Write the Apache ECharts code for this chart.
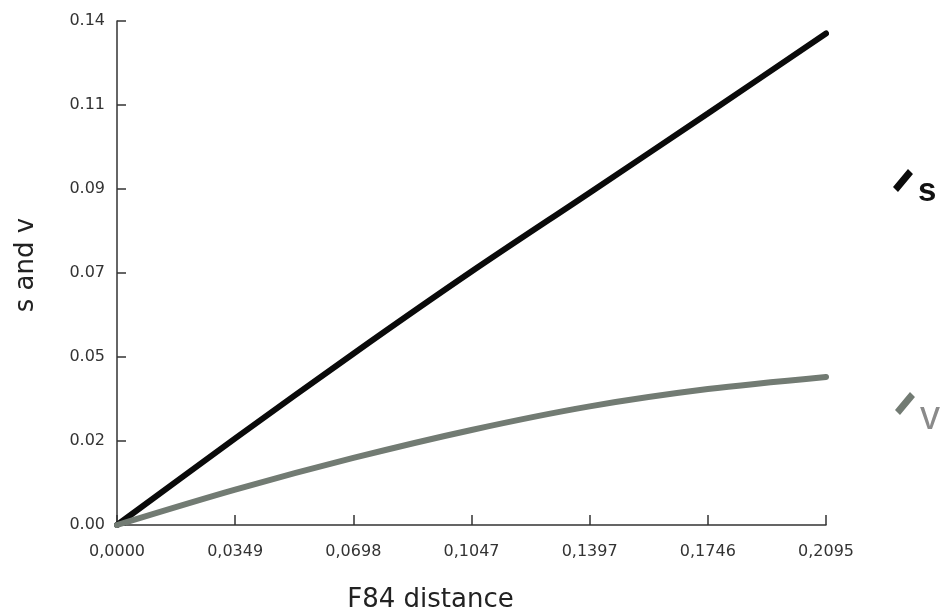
<!DOCTYPE html>
<html>
<head>
<meta charset="utf-8">
<script src="https://cdn.jsdelivr.net/npm/echarts@6/dist/echarts.min.js"></script>
<style>
html,body{margin:0;padding:0;background:#fff;}
#chart{width:941px;height:612px;}
</style>
</head>
<body>
<div id="chart"></div>
<script>
// ---- data ----
const xValues = [0, 0.03492, 0.06983, 0.10475, 0.13967, 0.17458, 0.2095];
const sValues = [0, 0.0235, 0.0465, 0.0688, 0.0902, 0.1117, 0.1334];
const vValues = [0, 0.0096, 0.0182, 0.0258, 0.0322, 0.0369, 0.0402];
const xTickLabels = ['0,0000', '0,0349', '0,0698', '0,1047', '0,1397', '0,1746', '0,2095'];
const yTickLabels = ['0.00', '0.02', '0.05', '0.07', '0.09', '0.11', '0.14'];
const seriesNames = ['s', 'v'];

const X_MAX = 0.2095, X_INT = 0.03491667;
const Y_MAX = 0.1368, Y_INT = 0.02280001;

const chart = echarts.init(document.getElementById('chart'));
const FONT = '"DejaVu Sans", Verdana, sans-serif';
const LFONT = '"Liberation Sans", Arial, sans-serif';
function labelFor(interval, labels) {
  return function (v) {
    const i = Math.round(v / interval);
    return labels[Math.max(0, Math.min(labels.length - 1, i))];
  };
}
const iconS = 'path://M0,18 L15,0 L20,5 L5,23 Z M20,46 L20.02,46 L20.02,46.02 Z';
const iconV = 'path://M0,18 L15,0 L20,5 L5,23 Z M20,52 L20.02,52 L20.02,52.02 Z';
chart.setOption({
  backgroundColor: '#ffffff',
  animation: false,
  grid: { left: 117, right: 115, top: 21, bottom: 87, containLabel: false, outerBoundsMode: 'none' },
  legend: [
    {
      data: [{ name: seriesNames[0], icon: iconS,
        textStyle: { fontSize: 33, fontWeight: 'bold', color: '#111', fontFamily: LFONT } }],
      left: 893, top: 169, padding: 0, itemWidth: 20, itemHeight: 46, selectedMode: false
    },
    {
      data: [{ name: seriesNames[1], icon: iconV,
        textStyle: { fontSize: 40, color: '#8a8a8a', fontFamily: LFONT } }],
      left: 895, top: 392, padding: 0, itemWidth: 20, itemHeight: 52, selectedMode: false
    }
  ],
  xAxis: {
    type: 'value', min: 0, max: X_MAX, interval: X_INT,
    name: 'F84 distance', nameLocation: 'middle', nameGap: 62,
    nameTextStyle: { fontSize: 26, color: '#222', fontFamily: FONT, padding: [0, 82, 0, 0] },
    axisLine: { show: true, lineStyle: { color: '#333', width: 1.5 } },
    axisTick: { show: true, inside: true, length: 10, lineStyle: { color: '#333', width: 1.5 } },
    axisLabel: { formatter: labelFor(X_INT, xTickLabels), fontSize: 16, color: '#333', fontFamily: FONT, margin: 19, showMinLabel: true, showMaxLabel: true },
    splitLine: { show: false }
  },
  yAxis: {
    type: 'value', min: 0, max: Y_MAX, interval: Y_INT,
    name: 's and v', nameLocation: 'middle', nameGap: 78, nameRotate: 90,
    nameTextStyle: { fontSize: 26, color: '#222', fontFamily: FONT, padding: [0, 0, 0, 16] },
    axisLine: { show: true, lineStyle: { color: '#333', width: 1.5 } },
    axisTick: { show: true, inside: true, length: 9, lineStyle: { color: '#333', width: 1.5 } },
    axisLabel: { formatter: labelFor(Y_INT, yTickLabels), fontSize: 16, color: '#333', fontFamily: FONT, margin: 12, showMinLabel: true, showMaxLabel: true },
    splitLine: { show: false }
  },
  series: [
    {
      name: seriesNames[0], type: 'line', smooth: 0.3, showSymbol: false,
      data: xValues.map((x, i) => [x, sValues[i]]),
      color: '#0a0a0a',
      lineStyle: { color: '#0a0a0a', width: 6, cap: 'round' }
    },
    {
      name: seriesNames[1], type: 'line', smooth: 0.3, showSymbol: false,
      data: xValues.map((x, i) => [x, vValues[i]]),
      color: '#727b73',
      lineStyle: { color: '#727b73', width: 6, cap: 'round' }
    }
  ]
});
</script>
</body>
</html>
